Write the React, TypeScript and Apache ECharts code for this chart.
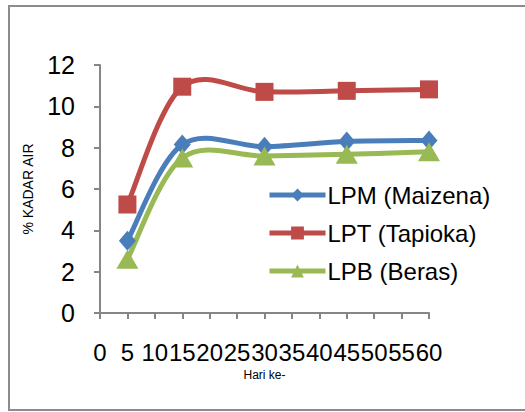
import React, { useEffect, useRef } from "react";
import * as echarts from "echarts";

// Water content (%) measured on each day for three flour-based samples
const days = [5, 15, 30, 45, 60];
const lpmMaizena = [3.5, 8.15, 8.05, 8.3, 8.35];
const lptTapioka = [5.25, 10.95, 10.7, 10.75, 10.82];
const lpbBeras = [2.6, 7.5, 7.6, 7.68, 7.8];

const seriesNames = ["LPM (Maizena)", "LPT (Tapioka)", "LPB (Beras)"];
const colors = ["#4a7ebb", "#be4b48", "#98b954"];
const xTitle = "Hari ke-";
const yTitle = "% KADAR AIR";

const FONT = "'Liberation Sans Narrow', 'Liberation Sans', Arial, sans-serif";
const AXIS_GRAY = "#868686";
const LINE_W = 5;

const pairs = (vals: number[]) => days.map((d, i) => [d, vals[i]]);

// Smooth curve through the points (Catmull-Rom style cubic segments in pixel space)
const curveSeries = (vals: number[], color: string) => ({
  type: "custom",
  coordinateSystem: "cartesian2d",
  silent: true,
  z: 1,
  data: pairs(vals),
  renderItem: (params: any, api: any) => {
    if (params.dataIndex !== 0) return null;
    const pts = days.map((d, i) => api.coord([d, vals[i]]));
    const children = [];
    for (let i = 0; i < pts.length - 1; i++) {
      const p0 = pts[Math.max(0, i - 1)];
      const p1 = pts[i];
      const p2 = pts[i + 1];
      const p3 = pts[Math.min(pts.length - 1, i + 2)];
      children.push({
        type: "bezierCurve",
        shape: {
          x1: p1[0],
          y1: p1[1],
          cpx1: p1[0] + (p2[0] - p0[0]) / 6,
          cpy1: p1[1] + (p2[1] - p0[1]) / 6,
          cpx2: p2[0] - (p3[0] - p1[0]) / 6,
          cpy2: p2[1] - (p3[1] - p1[1]) / 6,
          x2: p2[0],
          y2: p2[1],
        },
        style: { fill: "none", stroke: color, lineWidth: LINE_W, lineCap: "round" },
      });
    }
    return { type: "group", children };
  },
});

export default function App() {
  const ref = useRef<HTMLDivElement>(null);

  useEffect(() => {
    if (!ref.current) return;
    const chart = echarts.init(ref.current, undefined, { renderer: "svg" });

    const markerSeries = (
      name: string,
      vals: number[],
      color: string,
      symbol: string,
      symbolSize: number | number[]
    ) => ({
      name,
      type: "line",
      data: pairs(vals),
      symbol,
      symbolSize,
      z: 3,
      lineStyle: { color, width: LINE_W, opacity: 0 },
      itemStyle: { color },
    });

    chart.setOption({
      animation: false,
      backgroundColor: "#ffffff",
      textStyle: { fontFamily: FONT },
      graphic: [
        {
          type: "rect",
          shape: { x: 9, y: 6, width: 530, height: 404 },
          style: { fill: "none", stroke: "#8c8c8c", lineWidth: 2 },
          silent: true,
        },
      ],
      grid: { left: 100, right: 96, top: 65, bottom: 99 },
      legend: {
        orient: "vertical",
        left: 262,
        top: 178,
        itemWidth: 56,
        itemHeight: 16,
        itemGap: 14,
        data: seriesNames,
        lineStyle: { opacity: 1, width: LINE_W },
        textStyle: { fontFamily: FONT, fontSize: 24, color: "#000", padding: [0, 0, 0, -3] },
      },
      xAxis: {
        type: "value",
        min: 0,
        max: 60,
        interval: 5,
        name: xTitle,
        nameLocation: "middle",
        nameGap: 49,
        nameTextStyle: { fontFamily: FONT, fontSize: 12, color: "#000" },
        axisLine: { lineStyle: { color: AXIS_GRAY, width: 2 } },
        axisTick: { show: true, length: 6, lineStyle: { color: AXIS_GRAY, width: 2 } },
        axisLabel: {
          fontFamily: FONT,
          fontSize: 24,
          color: "#000",
          margin: 27,
          showMinLabel: true,
          showMaxLabel: true,
          hideOverlap: false,
        },
        splitLine: { show: false },
      },
      yAxis: {
        type: "value",
        min: 0,
        max: 12,
        interval: 2,
        name: yTitle,
        nameLocation: "middle",
        nameRotate: 90,
        nameGap: 65,
        nameTextStyle: { fontFamily: FONT, fontSize: 14, color: "#000" },
        axisLine: { show: true, lineStyle: { color: AXIS_GRAY, width: 2 } },
        axisTick: { show: true, length: 6, lineStyle: { color: AXIS_GRAY, width: 2 } },
        axisLabel: { fontFamily: FONT, fontSize: 25, color: "#000", margin: 25 },
        splitLine: { show: false },
      },
      series: [
        curveSeries(lpmMaizena, colors[0]),
        curveSeries(lptTapioka, colors[1]),
        curveSeries(lpbBeras, colors[2]),
        markerSeries(seriesNames[0], lpmMaizena, colors[0], "diamond", [17, 20]),
        markerSeries(seriesNames[1], lptTapioka, colors[1], "rect", 18),
        markerSeries(seriesNames[2], lpbBeras, colors[2], "triangle", [22, 19]),
      ],
    });

    return () => chart.dispose();
  }, []);

  return (
    <div
      ref={ref}
      style={{ position: "fixed", left: 0, top: 0, width: 525, height: 412 }}
    />
  );
}
